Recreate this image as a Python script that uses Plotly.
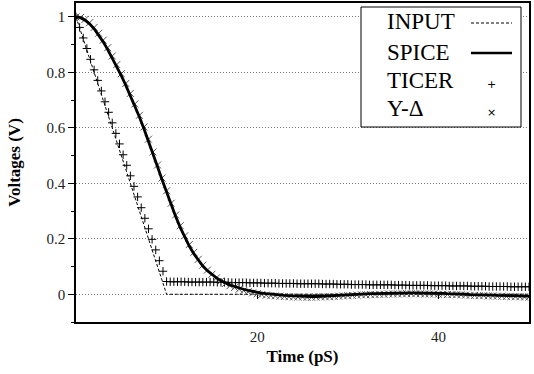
import plotly.graph_objects as go

# ---------------- data ----------------
input_t = [0, 10, 50]
input_v = [1.0, 0.0, 0.0]

ticer_step = 0.4
ticer_v = [
    1.000, 0.962, 0.924, 0.886, 0.847, 0.809, 0.771, 0.733, 0.694, 0.656,
    0.618, 0.580, 0.542, 0.503, 0.465, 0.427, 0.389, 0.351, 0.312, 0.274,
    0.236, 0.198, 0.160, 0.121, 0.083, 0.046,
    0.045, 0.045, 0.045, 0.045, 0.045, 0.044, 0.044, 0.044, 0.044, 0.044,
    0.044, 0.044, 0.044, 0.043, 0.043, 0.043, 0.043, 0.042, 0.042, 0.042,
    0.042, 0.042, 0.041, 0.041, 0.041, 0.041, 0.040, 0.040, 0.040, 0.040,
    0.039, 0.039, 0.039, 0.039, 0.039, 0.038, 0.038, 0.038, 0.038, 0.038,
    0.038, 0.038, 0.037, 0.037, 0.037, 0.037, 0.036, 0.036, 0.036, 0.036,
    0.035, 0.035, 0.035, 0.035, 0.035, 0.034, 0.034, 0.034, 0.034, 0.034,
    0.034, 0.034, 0.033, 0.033, 0.033, 0.033, 0.032, 0.032, 0.032, 0.032,
    0.032, 0.032, 0.031, 0.031, 0.031, 0.031, 0.031, 0.030, 0.030, 0.030,
    0.030, 0.030, 0.030, 0.029, 0.029, 0.029, 0.029, 0.029, 0.028, 0.028,
    0.028, 0.028, 0.028, 0.028, 0.027, 0.027, 0.027, 0.027, 0.027, 0.027,
]

spice_step = 0.5
spice_v = [
    1.000, 0.997, 0.988, 0.975, 0.957, 0.935, 0.910, 0.882, 0.852, 0.821,
    0.788, 0.753, 0.717, 0.679, 0.639, 0.597, 0.553, 0.507, 0.460, 0.413,
    0.367, 0.322, 0.280, 0.241, 0.205, 0.174, 0.146, 0.122, 0.102, 0.085,
    0.071, 0.059, 0.049, 0.041, 0.034, 0.028, 0.022, 0.018, 0.014, 0.010,
    0.007, 0.004, 0.002, 0.000, -0.002, -0.003, -0.004, -0.005, -0.006, -0.007,
    -0.007, -0.008, -0.008, -0.008, -0.007, -0.007, -0.006, -0.005, -0.004, -0.003,
    -0.002, -0.001, 0.000, 0.001, 0.001, 0.002, 0.002, 0.003, 0.003, 0.004,
    0.004, 0.004, 0.005, 0.005, 0.005, 0.005, 0.005, 0.004, 0.004, 0.004,
    0.003, 0.003, 0.002, 0.002, 0.001, 0.001, 0.000, -0.001, -0.001, -0.002,
    -0.002, -0.003, -0.003, -0.004, -0.004, -0.005, -0.005, -0.006, -0.006, -0.007,
    -0.007,
]

ydelta_step = 0.5
ydelta_v = [
    1.000, 0.998, 0.991, 0.979, 0.962, 0.941, 0.916, 0.889, 0.859, 0.828,
    0.795, 0.760, 0.724, 0.686, 0.645, 0.603, 0.559, 0.513, 0.466, 0.419,
    0.373, 0.328, 0.286, 0.247, 0.211, 0.179, 0.151, 0.126, 0.105, 0.087,
    0.072, 0.059, 0.048, 0.039, 0.031, 0.024, 0.018, 0.013, 0.009, 0.005,
    0.002, -0.001, -0.003, -0.005, -0.006, -0.007, -0.008, -0.009, -0.010, -0.010,
    -0.010, -0.011, -0.011, -0.010, -0.010, -0.009, -0.009, -0.008, -0.007, -0.006,
    -0.005, -0.004, -0.003, -0.002, -0.002, -0.001, -0.001, 0.000, 0.000, 0.001,
    0.001, 0.001, 0.002, 0.002, 0.002, 0.002, 0.002, 0.001, 0.001, 0.001,
    0.000, 0.000, -0.001, -0.001, -0.002, -0.002, -0.003, -0.004, -0.004, -0.005,
    -0.005, -0.006, -0.006, -0.007, -0.007, -0.008, -0.008, -0.009, -0.009, -0.010,
    -0.010,
]

x_ticks = [20, 40]
x_tick_labels = ["20", "40"]
y_ticks = [0, 0.2, 0.4, 0.6, 0.8, 1]
y_tick_labels = ["0", "0.2", "0.4", "0.6", "0.8", "1"]

legend_names = ["INPUT", "SPICE", "TICER", "Y-Δ"]

ticer_t = [round(i * ticer_step, 2) for i in range(len(ticer_v))]
spice_t = [round(i * spice_step, 2) for i in range(len(spice_v))]
ydelta_t = [round(i * ydelta_step, 2) for i in range(len(ydelta_v))]

# ---------------- figure ----------------
W, H = 534, 374
ML, MR, MT, MB = 76, 5, 3, 52
PW, PH = W - ML - MR, H - MT - MB
X_RANGE = [0, 50]
Y_RANGE = [-0.1, 1.05]
FONT = "Liberation Serif"


def px(x):
    return (x - ML) / PW


def py(y):
    return (H - MB - y) / PH


fig = go.Figure()
fig.add_trace(go.Scatter(x=input_t, y=input_v, mode="lines", name=legend_names[0],
                         line=dict(color="black", width=1, dash="3px,2px"), showlegend=False))
fig.add_trace(go.Scatter(x=ticer_t, y=ticer_v, mode="markers", name=legend_names[2],
                         marker=dict(symbol="cross-thin", size=6, line=dict(color="black", width=1)),
                         showlegend=False))
fig.add_trace(go.Scatter(x=ydelta_t, y=ydelta_v, mode="markers", name=legend_names[3],
                         marker=dict(symbol="x-thin", size=7, line=dict(color="#555", width=1)),
                         showlegend=False))
fig.add_trace(go.Scatter(x=spice_t, y=spice_v, mode="lines", name=legend_names[1],
                         line=dict(color="black", width=2.8), showlegend=False))
# helper trace so the tick-mark axis at y = 0 is drawn
fig.add_trace(go.Scatter(x=input_t, y=input_v, xaxis="x2", mode="lines",
                         line=dict(width=0), opacity=0, hoverinfo="skip", showlegend=False))

zero_pos = (0 - Y_RANGE[0]) / (Y_RANGE[1] - Y_RANGE[0])

fig.update_layout(
    width=W, height=H,
    margin=dict(l=ML, r=MR, t=MT, b=MB, autoexpand=False),
    paper_bgcolor="white", plot_bgcolor="white",
    font=dict(family=FONT, color="black"),
    showlegend=False,
    xaxis=dict(range=X_RANGE, tickvals=x_ticks, ticktext=x_tick_labels, ticks="",
               showgrid=False, zeroline=False, showline=True, linecolor="black",
               linewidth=1.5, mirror=True, automargin=False,
               tickfont=dict(size=15, family=FONT, color="#222"),
               title=dict(text="<b>Time (pS)</b>", font=dict(size=17, family=FONT), standoff=6)),
    xaxis2=dict(range=X_RANGE, overlaying="x", anchor="free", position=zero_pos,
                tickvals=x_ticks, ticks="outside", ticklen=4, tickcolor="black",
                showticklabels=False, showline=False, showgrid=False, zeroline=False,
                automargin=False),
    yaxis=dict(range=Y_RANGE, tickvals=y_ticks, ticktext=y_tick_labels, ticks="outside",
               ticklen=6, tickcolor="black", showgrid=True, gridcolor="#777",
               griddash="1px,2px", gridwidth=1, zeroline=False, showline=True,
               linecolor="black", linewidth=1.5, mirror=True, automargin=False,
               tickfont=dict(size=15, family=FONT, color="#222"),
               minor=dict(dtick=0.1, ticks="outside", ticklen=3, tickcolor="black", showgrid=False),
               title=dict(text="<b>Voltages (V)</b>", font=dict(size=17, family=FONT), standoff=22)),
)

# ---------------- custom legend (text left, sample right) ----------------
shapes = [dict(type="rect", xref="paper", yref="paper", x0=px(361), x1=px(521),
               y0=py(127), y1=py(7), fillcolor="white", line=dict(color="black", width=1),
               layer="above")]
shapes.append(dict(type="line", xref="paper", yref="paper", x0=px(471), x1=px(512),
                   y0=py(23), y1=py(23), line=dict(color="black", width=1, dash="3px,2px"),
                   layer="above"))
shapes.append(dict(type="line", xref="paper", yref="paper", x0=px(471), x1=px(512),
                   y0=py(53), y1=py(53), line=dict(color="black", width=2.6), layer="above"))
fig.update_layout(shapes=shapes)

rows_y = [22, 52, 80, 108]
for name, yy in zip(legend_names, rows_y):
    fig.add_annotation(xref="paper", yref="paper", x=px(385), y=py(yy), text=name,
                       showarrow=False, xanchor="left", yanchor="middle",
                       font=dict(size=23, family=FONT, color="black"))
fig.add_annotation(xref="paper", yref="paper", x=px(491), y=py(84), text="+",
                   showarrow=False, xanchor="center", yanchor="middle",
                   font=dict(size=11, family="DejaVu Sans", color="black"))
fig.add_annotation(xref="paper", yref="paper", x=px(491), y=py(112), text="×",
                   showarrow=False, xanchor="center", yanchor="middle",
                   font=dict(size=11, family="DejaVu Sans", color="black"))

fig.write_html("out.html", config={"displayModeBar": False},
               post_script="document.body.style.margin='0';")
